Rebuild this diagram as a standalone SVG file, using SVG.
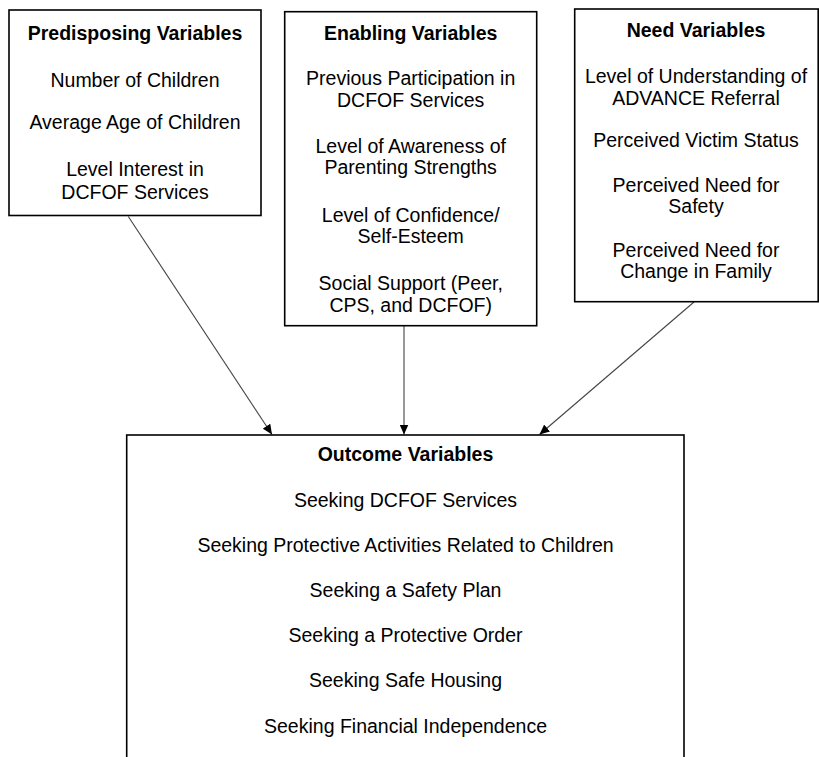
<svg xmlns="http://www.w3.org/2000/svg" width="819" height="757" viewBox="0 0 819 757">
<defs>
<marker id="ah" markerUnits="userSpaceOnUse" markerWidth="11" markerHeight="9" refX="10" refY="4.5" orient="auto">
<path d="M0,0 L10,4.5 L0,9 z" fill="#000"/>
</marker>
<style>
.box{fill:#fff;stroke:#000;stroke-width:1.6}
text{font-family:"Liberation Sans",Arial,sans-serif;font-size:19.5px;fill:#000;text-anchor:middle}
.t{font-weight:bold}
.c{stroke:#444;stroke-width:1.1;fill:none;marker-end:url(#ah)}
</style>
</defs>
<rect width="819" height="757" fill="#fff"/>
<g id="connectors">
<line class="c" x1="128.3" y1="216.5" x2="272" y2="434.5"/>
<line class="c" x1="404" y1="326" x2="404" y2="434.5"/>
<line class="c" x1="694" y1="302" x2="539.5" y2="434.5"/>
</g>
<g id="predisposing">
<rect class="box" x="9" y="10" width="252" height="205.5"/>
<text class="t" x="135" y="40">Predisposing Variables</text>
<text x="135" y="87.3">Number of Children</text>
<text x="135" y="129.3">Average Age of Children</text>
<text x="135" y="176">Level Interest in</text>
<text x="135" y="199">DCFOF Services</text>
</g>
<g id="enabling">
<rect class="box" x="284.7" y="11.7" width="252" height="314"/>
<text class="t" x="410.7" y="40">Enabling Variables</text>
<text x="410.7" y="85">Previous Participation in</text>
<text x="410.7" y="106.7">DCFOF Services</text>
<text x="410.7" y="152.7">Level of Awareness of</text>
<text x="410.7" y="174.3">Parenting Strengths</text>
<text x="410.7" y="221.7">Level of Confidence/</text>
<text x="410.7" y="243.3">Self-Esteem</text>
<text x="410.7" y="290">Social Support (Peer,</text>
<text x="410.7" y="311.7">CPS, and DCFOF)</text>
</g>
<g id="need">
<rect class="box" x="574.7" y="9" width="243.5" height="292.7"/>
<text class="t" x="696" y="36.7">Need Variables</text>
<text x="696" y="83.3">Level of Understanding of</text>
<text x="696" y="104.5">ADVANCE Referral</text>
<text x="696" y="147.3">Perceived Victim Status</text>
<text x="696" y="191.7">Perceived Need for</text>
<text x="696" y="213.3">Safety</text>
<text x="696" y="256.7">Perceived Need for</text>
<text x="696" y="278.3">Change in Family</text>
</g>
<g id="outcome">
<rect class="box" x="126.7" y="435" width="557.3" height="340"/>
<text class="t" x="405.5" y="460.5">Outcome Variables</text>
<text x="405.5" y="506.5">Seeking DCFOF Services</text>
<text x="405.5" y="551.7">Seeking Protective Activities Related to Children</text>
<text x="405.5" y="596.7">Seeking a Safety Plan</text>
<text x="405.5" y="641.7">Seeking a Protective Order</text>
<text x="405.5" y="687.3">Seeking Safe Housing</text>
<text x="405.5" y="733.3">Seeking Financial Independence</text>
</g>
</svg>
